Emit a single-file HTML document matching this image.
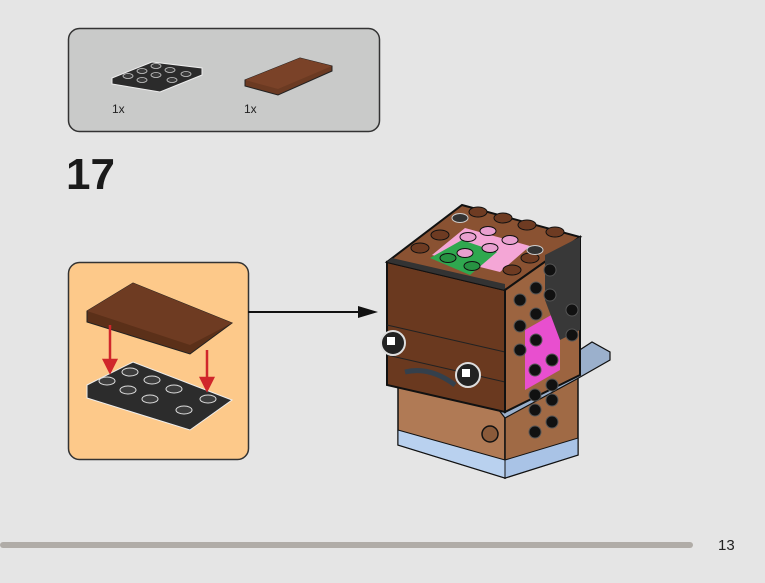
<!DOCTYPE html>
<html><head><meta charset="utf-8"><style>
html,body{margin:0;padding:0;background:#e5e5e5;}
body{width:765px;height:578px;position:relative;overflow:hidden;font-family:"Liberation Sans",sans-serif;}
</style></head><body>
<svg width="765" height="578" viewBox="0 0 765 578" xmlns="http://www.w3.org/2000/svg">
<rect width="765" height="578" fill="#e5e5e5"/>
<rect x="68.5" y="28.5" width="311" height="103" rx="11" fill="#c9cac9" stroke="#333" stroke-width="1.5"/>
<polygon points="112,78 152,62 202,68 202,75 160,92 112,84" fill="#2b2b2b" stroke="#eee" stroke-width="1"/>
<g fill="#3a3a3a" stroke="#ccc" stroke-width="0.8">
<ellipse cx="128" cy="76" rx="5" ry="2.5"/><ellipse cx="142" cy="71" rx="5" ry="2.5"/><ellipse cx="156" cy="66" rx="5" ry="2.5"/>
<ellipse cx="142" cy="80" rx="5" ry="2.5"/><ellipse cx="156" cy="75" rx="5" ry="2.5"/><ellipse cx="170" cy="70" rx="5" ry="2.5"/>
<ellipse cx="172" cy="80" rx="5" ry="2.5"/><ellipse cx="186" cy="74" rx="5" ry="2.5"/></g>
<text x="112" y="113" font-size="12" fill="#222">1x</text>
<polygon points="245,80 300,58 332,66 332,71 278,95 245,86" fill="#6b3a22" stroke="#222" stroke-width="1"/>
<polygon points="245,80 300,58 332,66 278,89" fill="#7a4228"/>
<text x="244" y="113" font-size="12" fill="#222">1x</text>
<text x="66" y="189" font-size="44" font-weight="bold" fill="#1a1a1a">17</text>
<rect x="68.5" y="262.5" width="180" height="197" rx="11" fill="#fdc98a" stroke="#333" stroke-width="1.5"/>
<polygon points="87,311 133,283 232,323 190,354 87,322" fill="#5b3019" stroke="#222" stroke-width="1"/>
<polygon points="87,311 133,283 232,323 190,345" fill="#6e3b22"/>
<polygon points="87,385 133,362 232,400 190,430 87,398" fill="#2c2c2c" stroke="#eee" stroke-width="1"/>
<g fill="#3d3d3d" stroke="#ddd" stroke-width="1">
<ellipse cx="107" cy="381" rx="8" ry="4"/><ellipse cx="130" cy="372" rx="8" ry="4"/>
<ellipse cx="128" cy="390" rx="8" ry="4"/><ellipse cx="152" cy="380" rx="8" ry="4"/>
<ellipse cx="150" cy="399" rx="8" ry="4"/><ellipse cx="174" cy="389" rx="8" ry="4"/>
<ellipse cx="184" cy="410" rx="8" ry="4"/><ellipse cx="208" cy="399" rx="8" ry="4"/></g>
<g stroke="#d0262b" stroke-width="2.5" fill="#d0262b">
<line x1="110" y1="325" x2="110" y2="362"/><polygon points="104,360 116,360 110,372"/>
<line x1="207" y1="350" x2="207" y2="380"/><polygon points="201,378 213,378 207,390"/></g>
<line x1="248" y1="312" x2="368" y2="312" stroke="#111" stroke-width="2"/>
<polygon points="358,306 378,312 358,318" fill="#111"/>
<polygon points="398,370 505,395 505,478 398,445" fill="#b07a55" stroke="#111" stroke-width="1.5"/>
<polygon points="505,395 578,370 578,455 505,478" fill="#a06a45" stroke="#111" stroke-width="1.5"/>
<polygon points="398,430 505,460 505,478 398,445" fill="#b9d1ef" stroke="#111" stroke-width="1"/>
<polygon points="505,460 578,438 578,455 505,478" fill="#a9c3e6" stroke="#111" stroke-width="1"/>
<circle cx="490" cy="434" r="8" fill="#8a5a3a" stroke="#111" stroke-width="1.5"/>
<polygon points="495,405 592,342 610,352 610,360 575,380 505,418" fill="#9bb0cc" stroke="#111" stroke-width="1.2"/>
<polygon points="387,262 505,290 505,412 387,385" fill="#6a391f" stroke="#111" stroke-width="2"/>
<line x1="387" y1="325" x2="505" y2="352" stroke="#222" stroke-width="1"/>
<line x1="387" y1="355" x2="505" y2="382" stroke="#222" stroke-width="1"/>
<path d="M405 372 Q430 366 455 385" stroke="#34404c" stroke-width="5" fill="none"/>
<polygon points="387,262 462,205 580,237 505,290" fill="#8a5232" stroke="#111" stroke-width="2"/>
<polygon points="432,255 465,228 530,246 500,272" fill="#f4a6d6"/>
<polygon points="430,258 462,240 497,252 470,275" fill="#2fa84f"/>
<polygon points="387,262 392,258 505,284 505,290" fill="#333"/>
<polygon points="505,290 580,237 580,375 505,412" fill="#9c6440" stroke="#111" stroke-width="2"/>
<polygon points="525,330 560,310 560,370 525,390" fill="#e84fcf"/>
<polygon points="545,255 580,237 580,330 560,340 545,300" fill="#383838"/>
<g fill="#6e3b22" stroke="#111" stroke-width="1">
<ellipse cx="420" cy="248" rx="9" ry="5"/><ellipse cx="440" cy="235" rx="9" ry="5"/>
<ellipse cx="478" cy="212" rx="9" ry="5"/><ellipse cx="503" cy="218" rx="9" ry="5"/>
<ellipse cx="527" cy="225" rx="9" ry="5"/><ellipse cx="555" cy="232" rx="9" ry="5"/>
<ellipse cx="512" cy="270" rx="9" ry="5"/><ellipse cx="530" cy="258" rx="9" ry="5"/></g>
<g fill="#e9a0d0" stroke="#111" stroke-width="1">
<ellipse cx="468" cy="237" rx="8" ry="4.5"/><ellipse cx="488" cy="231" rx="8" ry="4.5"/>
<ellipse cx="465" cy="253" rx="8" ry="4.5"/><ellipse cx="490" cy="248" rx="8" ry="4.5"/>
<ellipse cx="510" cy="240" rx="8" ry="4.5"/></g>
<g fill="#279242" stroke="#111" stroke-width="1">
<ellipse cx="448" cy="258" rx="8" ry="4.5"/><ellipse cx="472" cy="266" rx="8" ry="4.5"/></g>
<g fill="#333" stroke="#ccc" stroke-width="1">
<ellipse cx="460" cy="218" rx="8" ry="4.5"/><ellipse cx="535" cy="250" rx="8" ry="4.5"/></g>
<g fill="#111" stroke="#555" stroke-width="1">
<circle cx="520" cy="300" r="6"/><circle cx="536" cy="288" r="6"/>
<circle cx="520" cy="326" r="6"/><circle cx="536" cy="314" r="6"/>
<circle cx="520" cy="350" r="6"/><circle cx="536" cy="340" r="6"/>
<circle cx="535" cy="370" r="6"/><circle cx="552" cy="360" r="6"/>
<circle cx="535" cy="395" r="6"/><circle cx="552" cy="385" r="6"/>
<circle cx="550" cy="270" r="6"/><circle cx="550" cy="295" r="6"/>
<circle cx="572" cy="310" r="6"/><circle cx="572" cy="335" r="6"/>
<circle cx="535" cy="410" r="6"/><circle cx="552" cy="400" r="6"/>
<circle cx="535" cy="432" r="6"/><circle cx="552" cy="422" r="6"/></g>
<g stroke="#ddd" stroke-width="2" fill="#222">
<circle cx="393" cy="343" r="12"/><circle cx="468" cy="375" r="12"/></g>
<rect x="387" y="337" width="8" height="8" fill="#fff"/><rect x="462" y="369" width="8" height="8" fill="#fff"/>
<rect x="0" y="542" width="693" height="6" rx="3" fill="#b0aca7"/>
<text x="718" y="550" font-size="15" fill="#222">13</text>
</svg>
</body></html>
